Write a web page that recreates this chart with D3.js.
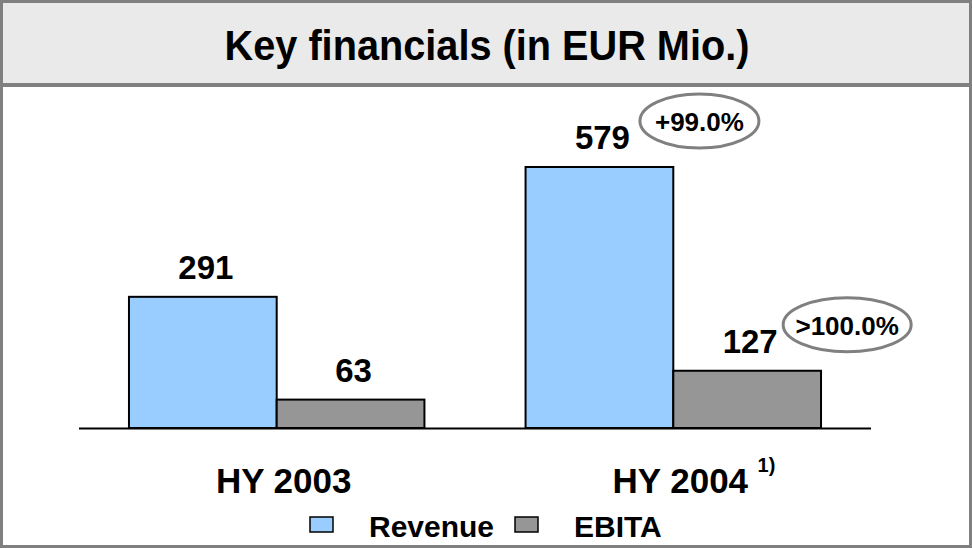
<!DOCTYPE html>
<html>
<head>
<meta charset="utf-8">
<script src="https://cdn.jsdelivr.net/npm/d3@7"></script>
<style>
  body { margin: 0; background: #fff; }
  text { font-family: "Liberation Sans", Arial, sans-serif; font-weight: bold; fill: #000; }
</style>
</head>
<body>
<div id="viz"></div>
<script>
// data
var categories = ['HY 2003', 'HY 2004'];
var series = ['Revenue', 'EBITA'];
var revenue = [291, 579];
var ebita = [63, 127];
var growth = ['+99.0%', '>100.0%'];   // growth 2004 vs 2003, per series
var footnotes = ['', '1)'];

var colors = {Revenue: '#99ccff', EBITA: '#969696'};

var width = 972, height = 548;

var svg = d3.select('#viz')
  .append('svg')
  .attr('width', width)
  .attr('height', height);

// frame + title box
svg.append('rect')
  .attr('x', 1.5).attr('y', 1.5)
  .attr('width', width - 3).attr('height', 82)
  .attr('fill', '#eaeaea');

svg.append('line')
  .attr('x1', 0).attr('x2', width)
  .attr('y1', 85).attr('y2', 85)
  .attr('stroke', '#808080')
  .attr('stroke-width', 4);

svg.append('rect')
  .attr('x', 1.5).attr('y', 1.5)
  .attr('width', width - 3).attr('height', height - 3)
  .attr('fill', 'none')
  .attr('stroke', '#808080')
  .attr('stroke-width', 3);

// title is a bit condensed in the original
svg.append('text')
  .text('Key financials (in EUR Mio.)')
  .attr('transform', 'translate(487,60) scale(0.945,1)')
  .attr('text-anchor', 'middle')
  .attr('font-size', '42px');

// scales
var x0 = d3.scaleBand()
  .domain(categories)
  .range([79, 871])
  .paddingInner(0.255)
  .paddingOuter(0.126);

var x1 = d3.scaleBand()
  .domain(series)
  .range([0, x0.bandwidth()]);

var y = d3.scaleLinear()
  .domain([0, 579])
  .range([428, 167]);

var rows = categories.map(function(c, i) {
  return [{cat: c, key: 'Revenue', value: revenue[i]},
          {cat: c, key: 'EBITA', value: ebita[i]}];
});

var groups = svg.selectAll('g.group')
  .data(rows)
  .enter()
  .append('g')
  .attr('class', 'group')
  .attr('transform', function(d, i) { return 'translate(' + x0(categories[i]) + ',0)'; });

groups.selectAll('rect')
  .data(function(d) { return d; })
  .enter()
  .append('rect')
  .attr('x', function(d) { return x1(d.key); })
  .attr('y', function(d) { return y(d.value); })
  .attr('width', x1.bandwidth())
  .attr('height', function(d) { return y(0) - y(d.value); })
  .attr('fill', function(d) { return colors[d.key]; })
  .attr('stroke', '#000')
  .attr('stroke-width', 2);

// value labels
groups.selectAll('text.value')
  .data(function(d) { return d; })
  .enter()
  .append('text')
  .attr('class', 'value')
  .text(function(d) { return d.value; })
  .attr('x', function(d) { return x1(d.key) + x1.bandwidth() / 2 + 3; })
  .attr('y', function(d) { return y(d.value) - 18; })
  .attr('text-anchor', 'middle')
  .attr('font-size', '33px');

// baseline
svg.append('line')
  .attr('x1', x0.range()[0]).attr('x2', x0.range()[1])
  .attr('y1', y(0) + 0.5).attr('y2', y(0) + 0.5)
  .attr('stroke', '#000')
  .attr('stroke-width', 2);

// growth bubbles next to 2004 bars
var last = categories.length - 1;
series.forEach(function(s, i) {
  var v = (s === 'Revenue' ? revenue : ebita)[last];
  var cx = x0(categories[last]) + x1(s) + x1.bandwidth() / 2 + 100;
  var cy = y(v) - 46;
  var rx = growth[i].length * 4.5 + 32.5;
  svg.append('ellipse')
    .attr('cx', cx).attr('cy', cy)
    .attr('rx', rx).attr('ry', 27)
    .attr('fill', 'none')
    .attr('stroke', '#808080')
    .attr('stroke-width', 3);
  svg.append('text')
    .text(growth[i])
    .attr('x', cx)
    .attr('y', cy + 10)
    .attr('text-anchor', 'middle')
    .attr('font-size', '26px');
});

// category labels
categories.forEach(function(c, i) {
  var t = svg.append('text')
    .text(c)
    .attr('x', x0(c) + x0.bandwidth() / 2 + 7)
    .attr('y', 493)
    .attr('text-anchor', 'middle')
    .attr('font-size', '35px');
  if (footnotes[i]) {
    var bb = t.node().getBBox();
    svg.append('text')
      .text(footnotes[i])
      .attr('x', bb.x + bb.width + 9)
      .attr('y', 472)
      .attr('font-size', '20px');
  }
});

// legend
var legendX = [310, 515];
series.forEach(function(s, i) {
  svg.append('rect')
    .attr('x', legendX[i]).attr('y', 517)
    .attr('width', 23).attr('height', 15)
    .attr('fill', colors[s])
    .attr('stroke', '#000')
    .attr('stroke-width', 1.5);
  svg.append('text')
    .text(s)
    .attr('x', legendX[i] + 59)
    .attr('y', 537)
    .attr('font-size', '30px');
});
</script>
</body>
</html>
